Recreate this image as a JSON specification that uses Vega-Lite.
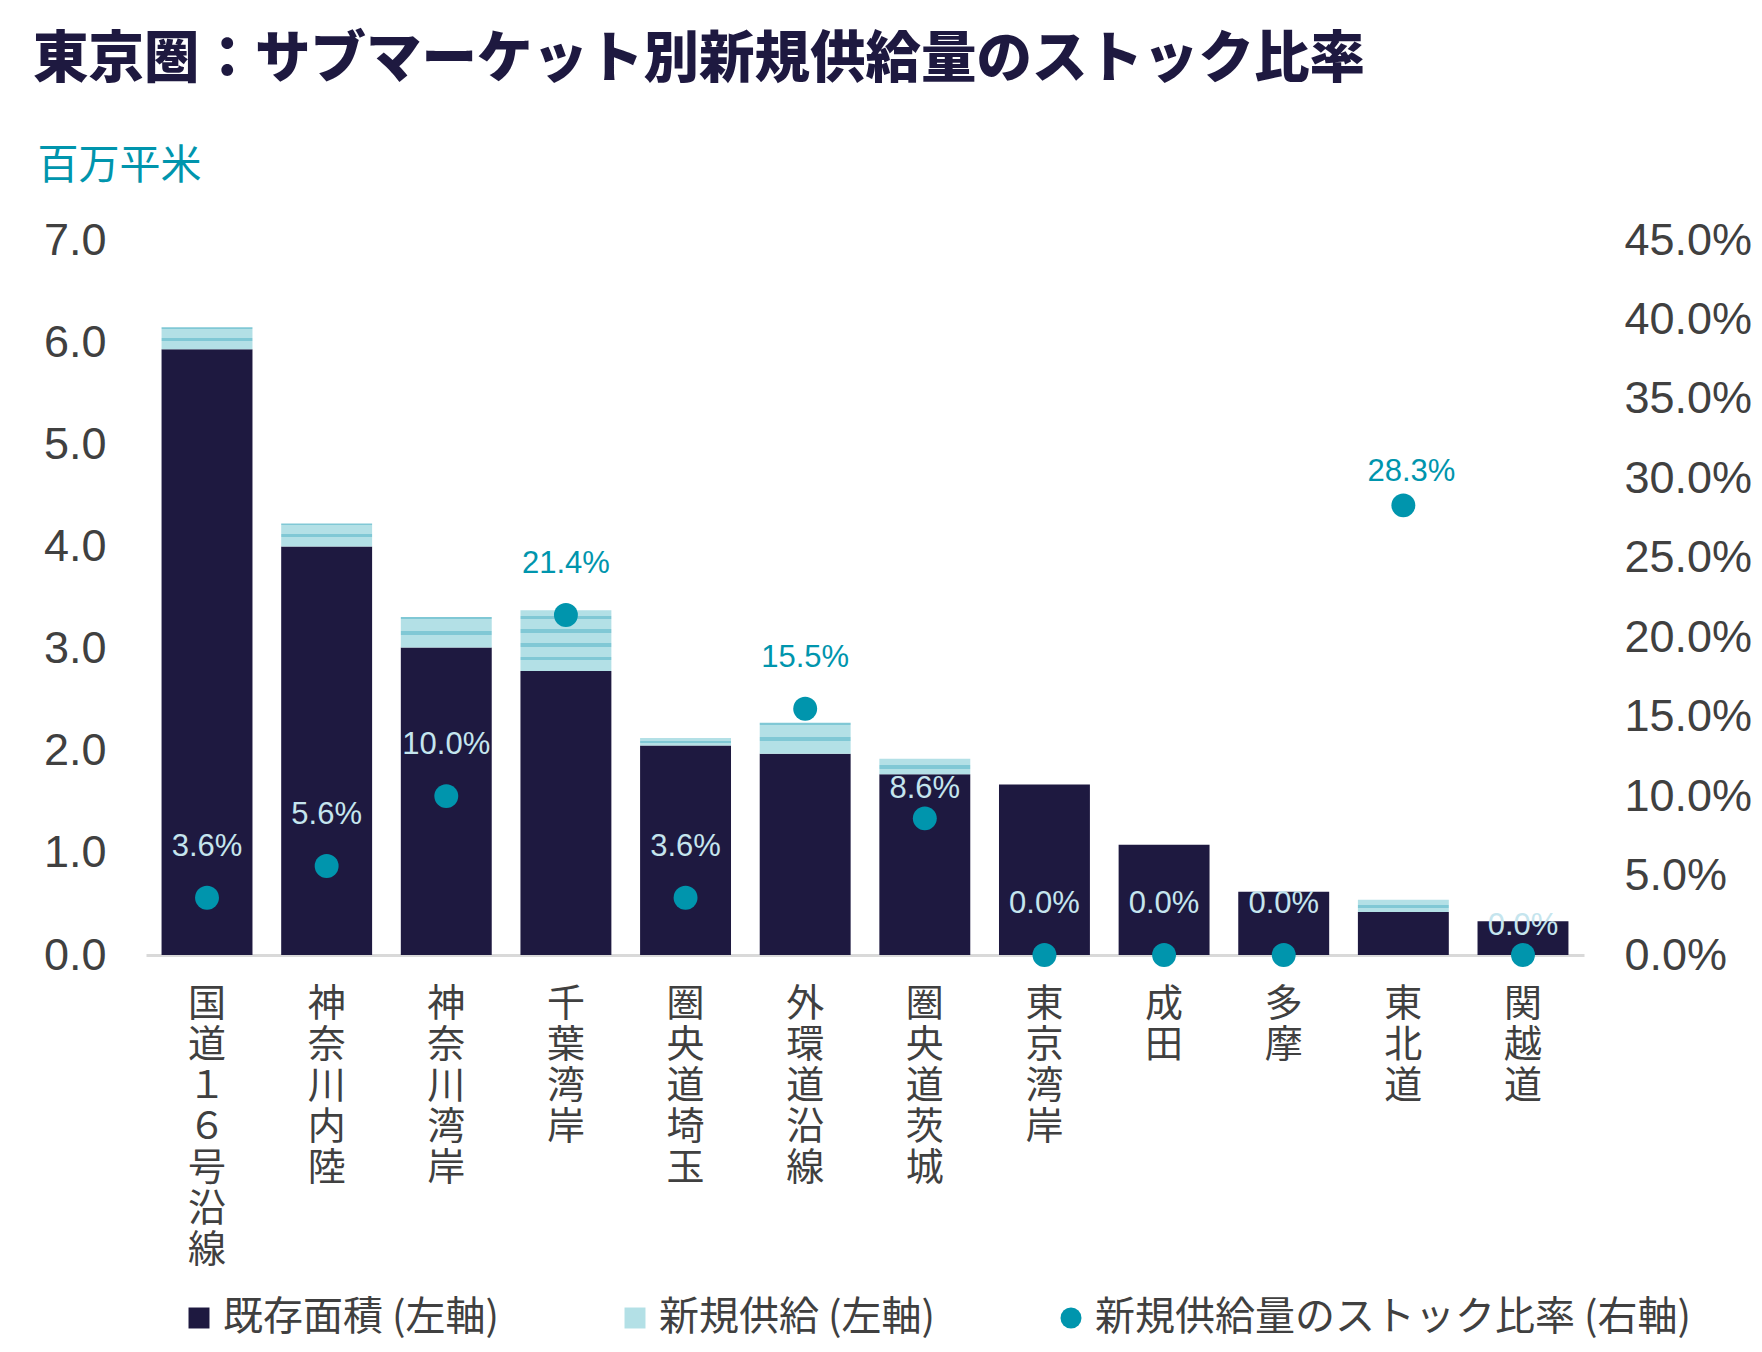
{
  "$schema": "https://vega.github.io/schema/vega-lite/v6.json",
  "autosize": {"type": "none"},
  "padding": {"left": 146, "top": 240, "right": 178, "bottom": 397},
  "width": 1438,
  "height": 715,
  "background": "white",
  "config": {"view": {"stroke": null}},
  "title": {
    "text": "東京圏：サブマーケット別新規供給量のストック比率",
    "anchor": "start",
    "font": "Noto Sans CJK JP",
    "fontSize": 55.5,
    "fontWeight": 900,
    "color": "#1e1940",
    "dx": -4,
    "dy": -53
  },
  "data": {
    "values": [
      {"area": "国道１６号沿線", "existing": 5.93, "new_supply": 0.215, "ratio": 0.036},
      {"area": "神奈川内陸", "existing": 4.0, "new_supply": 0.224, "ratio": 0.056},
      {"area": "神奈川湾岸", "existing": 3.01, "new_supply": 0.3, "ratio": 0.1},
      {"area": "千葉湾岸", "existing": 2.78, "new_supply": 0.595, "ratio": 0.214},
      {"area": "圏央道埼玉", "existing": 2.05, "new_supply": 0.074, "ratio": 0.036},
      {"area": "外環道沿線", "existing": 1.97, "new_supply": 0.305, "ratio": 0.155},
      {"area": "圏央道茨城", "existing": 1.77, "new_supply": 0.152, "ratio": 0.086},
      {"area": "東京湾岸", "existing": 1.67, "new_supply": 0, "ratio": 0},
      {"area": "成田", "existing": 1.08, "new_supply": 0, "ratio": 0},
      {"area": "多摩", "existing": 0.62, "new_supply": 0, "ratio": 0},
      {"area": "東北道", "existing": 0.42, "new_supply": 0.12, "ratio": 0.283},
      {"area": "関越道", "existing": 0.33, "new_supply": 0, "ratio": 0}
    ]
  },
  "encoding": {
    "x": {
      "field": "area",
      "type": "nominal",
      "sort": null,
      "scale": {"paddingInner": 0.24, "paddingOuter": 0.13},
      "axis": {
        "title": null,
        "labelAngle": 0,
        "labelExpr": "split(datum.label, '')",
        "labelFont": "Noto Sans CJK JP",
        "labelFontSize": 38,
        "labelLineHeight": 41,
        "labelColor": "#404040",
        "labelBaseline": "top",
        "labelPadding": 30,
        "labelLimit": 0,
        "labelOverlap": false,
        "ticks": false,
        "domainColor": "#d9d9d9",
        "domainWidth": 3
      }
    }
  },
  "layer": [
    {
      "transform": [{"fold": ["existing", "new_supply"], "as": ["key", "value"]}],
      "mark": {"type": "bar"},
      "encoding": {
        "y": {
          "field": "value",
          "type": "quantitative",
          "stack": "zero",
          "scale": {"domain": [0, 7], "nice": false},
          "axis": {
            "orient": "left",
            "values": [0, 1, 2, 3, 4, 5, 6, 7],
            "format": ".1f",
            "labelFont": "Liberation Sans",
            "labelFontSize": 45,
            "labelColor": "#404040",
            "labelPadding": 40,
            "labelFlush": false,
            "labelOverlap": false,
            "ticks": false,
            "domain": false,
            "grid": false,
            "title": "百万平米",
            "titleAngle": 0,
            "titleAlign": "left",
            "titleBaseline": "middle",
            "titleX": -109,
            "titleY": -74,
            "titleFont": "Noto Sans CJK JP",
            "titleFontSize": 41,
            "titleFontWeight": "normal",
            "titleColor": "#0095ad"
          }
        },
        "order": {"field": "key", "sort": "ascending"},
        "fill": {
          "field": "key",
          "type": "nominal",
          "scale": {"domain": ["existing", "new_supply", "ratio"], "range": ["#1e1940", "#b3e0e6", "#0095ad"]},
          "condition": [
            {
              "test": "datum.key === 'new_supply' && datum.value >= 0.5",
              "value": {
                "gradient": "linear", "x1": 0, "y1": 0, "x2": 0, "y2": 1,
                "stops": [
                  {"offset": 0, "color": "#b3e0e6"}, {"offset": 0.09, "color": "#b3e0e6"},
                  {"offset": 0.09, "color": "#80c8d5"}, {"offset": 0.145, "color": "#80c8d5"},
                  {"offset": 0.145, "color": "#b3e0e6"}, {"offset": 0.316, "color": "#b3e0e6"},
                  {"offset": 0.316, "color": "#80c8d5"}, {"offset": 0.371, "color": "#80c8d5"},
                  {"offset": 0.371, "color": "#b3e0e6"}, {"offset": 0.542, "color": "#b3e0e6"},
                  {"offset": 0.542, "color": "#80c8d5"}, {"offset": 0.597, "color": "#80c8d5"},
                  {"offset": 0.597, "color": "#b3e0e6"}, {"offset": 0.768, "color": "#b3e0e6"},
                  {"offset": 0.768, "color": "#80c8d5"}, {"offset": 0.823, "color": "#80c8d5"},
                  {"offset": 0.823, "color": "#b3e0e6"}, {"offset": 1, "color": "#b3e0e6"}
                ]
              }
            },
            {
              "test": "datum.key === 'new_supply' && datum.value >= 0.18",
              "value": {
                "gradient": "linear", "x1": 0, "y1": 0, "x2": 0, "y2": 1,
                "stops": [
                  {"offset": 0, "color": "#80c8d5"}, {"offset": 0.07, "color": "#80c8d5"},
                  {"offset": 0.07, "color": "#b3e0e6"}, {"offset": 0.47, "color": "#b3e0e6"},
                  {"offset": 0.47, "color": "#80c8d5"}, {"offset": 0.6, "color": "#80c8d5"},
                  {"offset": 0.6, "color": "#b3e0e6"}, {"offset": 1, "color": "#b3e0e6"}
                ]
              }
            },
            {
              "test": "datum.key === 'new_supply'",
              "value": {
                "gradient": "linear", "x1": 0, "y1": 0, "x2": 0, "y2": 1,
                "stops": [
                  {"offset": 0, "color": "#b3e0e6"}, {"offset": 0.38, "color": "#b3e0e6"},
                  {"offset": 0.38, "color": "#80c8d5"}, {"offset": 0.66, "color": "#80c8d5"},
                  {"offset": 0.66, "color": "#b3e0e6"}, {"offset": 1, "color": "#b3e0e6"}
                ]
              }
            }
          ],
          "legend": {
            "title": null,
            "orient": "none",
            "direction": "horizontal",
            "legendX": 33,
            "legendY": 1058,
            "columnPadding": 116,
            "labelOffset": 4,
            "symbolSize": 440,
            "symbolType": "square",
            "symbolStrokeWidth": 0,
            "labelFont": "Noto Sans CJK JP",
            "labelFontSize": 40,
            "labelColor": "#404040",
            "labelLimit": 0,
            "labelExpr": "datum.value === 'existing' ? '既存面積 (左軸)' : datum.value === 'new_supply' ? '新規供給 (左軸)' : '新規供給量のストック比率 (右軸)'",
            "encode": {
              "symbols": {
                "update": {
                  "shape": [{"test": "datum.value === 'ratio'", "value": "circle"}, {"value": "square"}],
                  "fill": [
                    {
                      "test": "datum.value === 'new_supply'",
                      "value": {
                        "gradient": "linear", "x1": 0, "y1": 0, "x2": 0, "y2": 1,
                        "stops": [
                          {"offset": 0, "color": "#80c8d5"}, {"offset": 0.15, "color": "#80c8d5"},
                          {"offset": 0.15, "color": "#b3e0e6"}, {"offset": 0.55, "color": "#b3e0e6"},
                          {"offset": 0.55, "color": "#80c8d5"}, {"offset": 0.72, "color": "#80c8d5"},
                          {"offset": 0.72, "color": "#b3e0e6"}, {"offset": 1, "color": "#b3e0e6"}
                        ]
                      }
                    },
                    {"test": "datum.value === 'ratio'", "value": "#0095ad"},
                    {"value": "#1e1940"}
                  ]
                }
              }
            }
          }
        }
      }
    },
    {
      "layer": [
        {
          "mark": {"type": "circle", "size": 572, "opacity": 1},
          "encoding": {
            "y": {
              "field": "ratio",
              "type": "quantitative",
              "scale": {"domain": [0, 0.45], "nice": false},
              "axis": {
                "orient": "right",
                "values": [0, 0.05, 0.1, 0.15, 0.2, 0.25, 0.3, 0.35, 0.4, 0.45],
                "format": ".1%",
                "labelFont": "Liberation Sans",
                "labelFontSize": 45,
                "labelColor": "#404040",
                "labelPadding": 40,
                "labelFlush": false,
                "labelOverlap": false,
                "ticks": false,
                "domain": false,
                "grid": false,
                "title": null
              }
            },
            "fill": {"datum": "ratio", "type": "nominal"}
          }
        },
        {
          "transform": [{"filter": "indexof(['東北道', '圏央道茨城', '関越道'], datum.area) < 0"}],
          "mark": {"type": "text", "dy": -51, "font": "Liberation Sans", "fontSize": 31},
          "encoding": {
            "y": {"field": "ratio", "type": "quantitative"},
            "text": {"field": "ratio", "format": ".1%"},
            "color": {"condition": {"test": "datum.ratio < 0.12", "value": "#c5e5ee"}, "value": "#0095ad"}
          }
        },
        {
          "transform": [{"filter": "datum.area === '東北道'"}],
          "mark": {"type": "text", "dy": -33, "dx": 8, "font": "Liberation Sans", "fontSize": 31},
          "encoding": {
            "y": {"field": "ratio", "type": "quantitative"},
            "text": {"field": "ratio", "format": ".1%"},
            "color": {"value": "#0095ad"}
          }
        },
        {
          "transform": [{"filter": "datum.area === '圏央道茨城' || datum.area === '関越道'"}],
          "mark": {"type": "text", "dy": -29, "font": "Liberation Sans", "fontSize": 31},
          "encoding": {
            "y": {"field": "ratio", "type": "quantitative"},
            "text": {"field": "ratio", "format": ".1%"},
            "color": {"value": "#c5e5ee"}
          }
        }
      ]
    }
  ],
  "resolve": {"scale": {"y": "independent"}}
}
